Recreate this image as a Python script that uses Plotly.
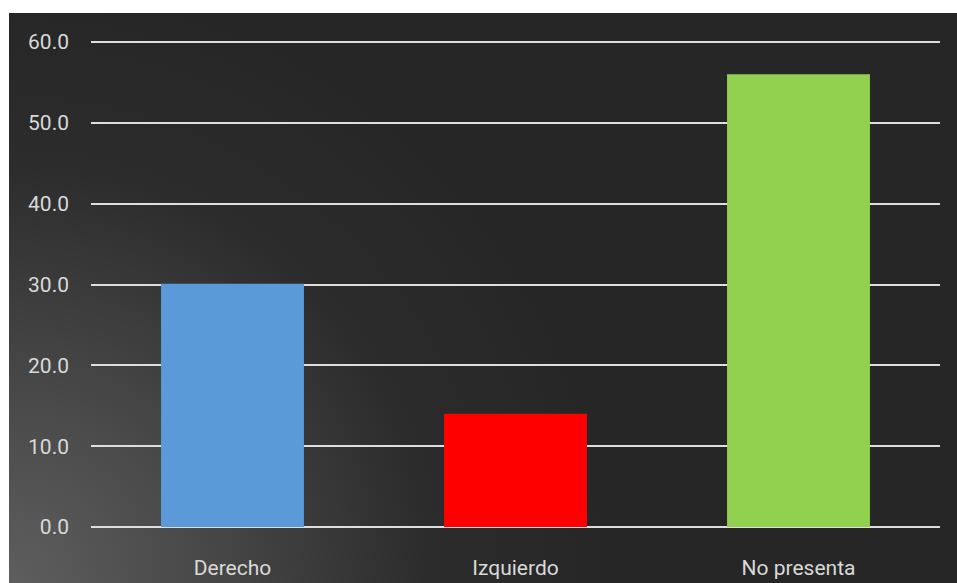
import base64
import plotly.graph_objects as go

categories = ["Derecho", "Izquierdo", "No presenta"]
values = [30.1, 14.0, 56.0]
bar_colors = ["#5a9ad8", "#ff0000", "#92d050"]
y_ticks = [0, 10, 20, 30, 40, 50, 60]
y_tick_labels = ["0.0", "10.0", "20.0", "30.0", "40.0", "50.0", "60.0"]

W, H = 957, 583
ML, MR, MT, MB = 91, 17, 38, 56
PW, PH = W - ML - MR, H - MT - MB

# panel background (dark with lighter bottom-left glow)
panel_x0, panel_y0, panel_x1, panel_y1 = 9, 13, 957, 583
pw, ph = panel_x1 - panel_x0, panel_y1 - panel_y0
svg = f'''<svg xmlns="http://www.w3.org/2000/svg" width="{pw}" height="{ph}" viewBox="0 0 {pw} {ph}" preserveAspectRatio="none">
<defs><radialGradient id="g" gradientUnits="userSpaceOnUse" cx="0" cy="{ph}" r="600">
<stop offset="0" stop-color="#5e5e5e"/><stop offset="0.3" stop-color="#4a4a4a"/><stop offset="0.7" stop-color="#2c2c2c"/><stop offset="1" stop-color="#262626"/>
</radialGradient></defs>
<rect x="0" y="0" width="{pw}" height="{ph}" fill="#262626"/>
<rect x="0" y="0" width="{pw}" height="{ph}" fill="url(#g)"/>
</svg>'''
src = "data:image/svg+xml;base64," + base64.b64encode(svg.encode()).decode()

fig = go.Figure()
fig.add_trace(go.Bar(
    x=categories, y=values, width=0.505,
    marker=dict(color=bar_colors, line=dict(width=0)),
    hoverinfo="skip",
))

fig.add_layout_image(dict(
    source=src, xref="paper", yref="paper",
    x=(panel_x0 - ML) / PW, y=(H - MB - panel_y0) / PH,
    sizex=pw / PW, sizey=ph / PH,
    xanchor="left", yanchor="top", sizing="stretch", layer="below",
))

font_family = "Roboto, 'Open Sans', sans-serif"
fig.update_layout(
    width=W, height=H,
    margin=dict(l=ML, r=MR, t=MT, b=MB, pad=0, autoexpand=False),
    paper_bgcolor="white", plot_bgcolor="rgba(0,0,0,0)",
    showlegend=False, bargap=0.495,
    font=dict(family=font_family, size=21, color="#d9d9d9"),
)
fig.update_yaxes(
    range=[0, 60.5], tickvals=y_ticks, ticktext=y_tick_labels,
    showgrid=True, gridcolor="#dedede", gridwidth=2,
    zeroline=True, zerolinecolor="#dedede", zerolinewidth=2,
    showline=False, ticks="", ticklabelstandoff=21, automargin=False,
    tickfont=dict(family=font_family, size=21, color="#d9d9d9"),
)
fig.update_xaxes(
    showgrid=False, showline=False, ticks="", zeroline=False,
    ticklabelstandoff=26, automargin=False,
    tickfont=dict(family=font_family, size=21, color="#d9d9d9"),
)

fig.write_html("out.html")
